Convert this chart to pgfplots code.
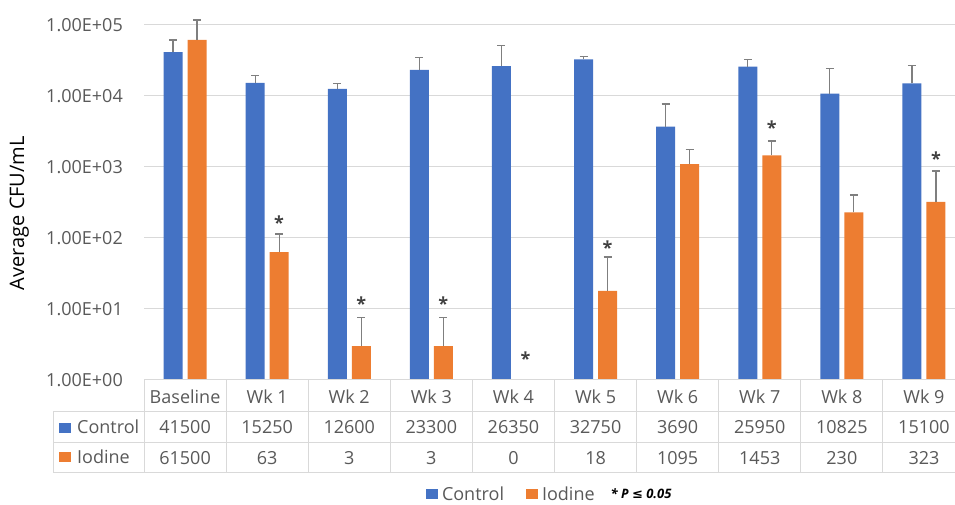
\documentclass[border=0pt]{standalone}
\usepackage{pgfplots}
\pgfplotsset{compat=1.18}
\usepackage{fontspec}
\setmainfont{Open Sans}
\newfontfamily\symfont{DejaVu Sans}

\definecolor{cblue}{HTML}{4472C4}
\definecolor{corange}{HTML}{ED7D31}
\definecolor{textgray}{HTML}{595959}
\definecolor{gridgray}{HTML}{D9D9D9}
\definecolor{errgray}{HTML}{7F7F7F}
\definecolor{stargray}{HTML}{404040}

\begin{document}
\begin{tikzpicture}[x=1bp,y=1bp]
\useasboundingbox (0,0) rectangle (955,505);
\clip (0,0) rectangle (955,505);
\begin{axis}[
  at={(144bp,125bp)}, anchor=south west,
  scale only axis, width=821bp, height=355bp,
  ymode=log, ymin=1, ymax=1e5,
  xmin=-0.5, xmax=9.5,
  clip=false,
  axis line style={draw=none},
  major tick length=0pt, minor tick length=0pt,
  ybar=5bp, bar width=19bp,
  ytick={1,10,100,1000,10000,100000},
  yticklabels={1.00E+00,1.00E+01,1.00E+02,1.00E+03,1.00E+04,1.00E+05},
  ymajorgrids, yminorgrids=false,
  grid style={color=gridgray, line width=1bp},
  yticklabel style={anchor=east, inner sep=0pt, xshift=-21bp,
    font=\fontsize{18bp}{20bp}\selectfont, text=textgray},
  xtick={0,...,9},
  xticklabels={
    {\rule{0pt}{14bp}Baseline\\41500\\61500},
    {\rule{0pt}{14bp}Wk 1\\15250\\63},
    {\rule{0pt}{14bp}Wk 2\\12600\\3},
    {\rule{0pt}{14bp}Wk 3\\23300\\3},
    {\rule{0pt}{14bp}Wk 4\\26350\\0},
    {\rule{0pt}{14bp}Wk 5\\32750\\18},
    {\rule{0pt}{14bp}Wk 6\\3690\\1095},
    {\rule{0pt}{14bp}Wk 7\\25950\\1453},
    {\rule{0pt}{14bp}Wk 8\\10825\\230},
    {\rule{0pt}{14bp}Wk 9\\15100\\323}},
  xticklabel style={anchor=north, inner sep=0pt, yshift=-9bp, align=center,
    font=\fontsize{18bp}{30.5bp}\selectfont, text=textgray},
  ylabel={Average CFU/mL},
  ylabel style={at={(axis description cs:-0.152,0.47)}, anchor=center,
    font=\fontsize{20bp}{22bp}\selectfont, text=black},
  legend columns=-1,
  legend cell align=left,
  legend style={at={(axis description cs:0.4936,-0.322)}, anchor=center,
    draw=none, fill=none, inner sep=0pt, nodes={inner sep=1bp},
    font=\fontsize{18bp}{20bp}\selectfont, text=textgray,
    /tikz/every odd column/.append style={column sep=3bp},
    /tikz/column 2/.append style={column sep=21bp},
    /tikz/column 4/.append style={column sep=11bp}},
  error bars/y dir=plus,
  error bars/y explicit,
  error bars/error bar style={line width=1.2bp, color=errgray},
  error bars/error mark options={rotate=90, line width=1.2bp, color=errgray, mark size=4bp},
]
% Control group
\addplot[fill=cblue, draw=none,
  legend image code/.code={\fill[cblue] (0bp,-5bp) rectangle (12bp,5bp);}]
  coordinates {
  (0,41500) +- (0,20000)
  (1,15250) +- (0,4050)
  (2,12600) +- (0,2500)
  (3,23300) +- (0,11300)
  (4,26350) +- (0,24850)
  (5,32750) +- (0,3050)
  (6,3690)  +- (0,4000)
  (7,25950) +- (0,6450)
  (8,10825) +- (0,13450)
  (9,15100) +- (0,11600)
};
\addlegendentry{Control}
% Iodine group (Wk 4 is zero and has no bar on the log scale)
\addplot[fill=corange, draw=none,
  legend image code/.code={\fill[corange] (0bp,-5bp) rectangle (12bp,5bp);}]
  coordinates {
  (0,61500) +- (0,56000)
  (1,63)    +- (0,51)
  (2,3)     +- (0,4.5)
  (3,3)     +- (0,4.5)
  (5,18)    +- (0,36)
  (6,1095)  +- (0,685)
  (7,1453)  +- (0,877)
  (8,230)   +- (0,174)
  (9,323)   +- (0,556)
};
\addlegendentry{Iodine}
\addlegendimage{empty legend}
\addlegendentry{\fontsize{13bp}{15bp}\selectfont\bfseries\itshape\color{black}* P {\symfont\bfseries\itshape ≤} 0.05}
% significance markers above the Iodine bars
\begin{scope}[every node/.style={font=\fontsize{18bp}{20bp}\selectfont\bfseries, text=stargray, yshift=-3bp}]
\node at (axis cs:1.146,180) {*};
\node at (axis cs:2.146,13) {*};
\node at (axis cs:3.146,13) {*};
\node at (axis cs:4.146,2.18) {*};
\node at (axis cs:5.146,80) {*};
\node at (axis cs:7.146,3900) {*};
\node at (axis cs:9.146,1430) {*};
\end{scope}
\end{axis}
% data table grid below the plot
\begin{scope}[gridgray, line width=1bp]
\draw (144,125) -- (965,125);
\draw (53,93) -- (965,93);
\draw (53,62) -- (965,62);
\draw (53,32) -- (965,32);
\draw (53,32) -- (53,93);
\foreach \k in {0,...,10} {\draw ({144+82.1*\k},32) -- ({144+82.1*\k},125);}
\end{scope}
\fill[cblue] (59,72) rectangle (71,82);
\fill[corange] (59,43) rectangle (71,53);
\node[anchor=base west, inner sep=0pt, text=textgray, font=\fontsize{18bp}{20bp}\selectfont] at (77,71) {Control};
\node[anchor=base west, inner sep=0pt, text=textgray, font=\fontsize{18bp}{20bp}\selectfont] at (77,41) {Iodine};
\end{tikzpicture}
\end{document}
